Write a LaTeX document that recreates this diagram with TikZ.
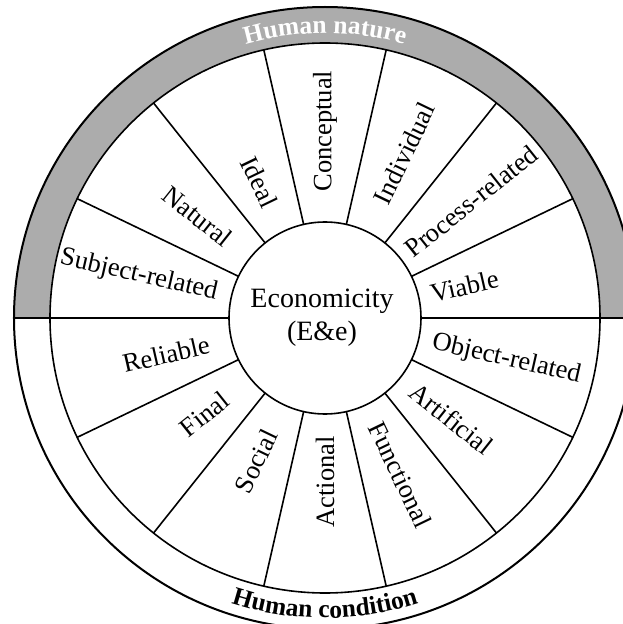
\documentclass[tikz,border=0pt]{standalone}
\usepackage{fontspec}
\setmainfont{Liberation Serif}
\usetikzlibrary{decorations.text}
\begin{document}
\begin{tikzpicture}[x=1pt,y=1pt,
  rule/.style={line width=1.6pt,black},
  ringline/.style={line width=2pt,black},
  lab/.style={font=\fontsize{26.5}{30}\selectfont,inner sep=0pt},
  hub/.style={font=\fontsize{28}{33}\selectfont,align=center,inner sep=0pt}]
\useasboundingbox (-325,-306) rectangle (297,318);
% radii: hub 96, inner ring edge 275, outer edge 311
\def\rhub{96}\def\rin{275}\def\rout{311}
% grey upper half of the outer band
\fill[gray!65] (180:\rout) arc[start angle=180,end angle=0,radius=311pt]
  -- (0:\rin) arc[start angle=0,end angle=180,radius=275pt] -- cycle;
\draw[ringline] (0,0) circle[radius=311pt];
\draw[rule] (0,0) circle[radius=275pt];
\node[circle,draw,line width=1.6pt,minimum size=192pt,inner sep=0pt] (hub) at (0,0) {};
% horizontal divider crossing the band
\coordinate (eL) at (180:\rout); \coordinate (eR) at (0:\rout);
\draw[rule] (eL) -- (hub.west);
\draw[rule] (hub.east) -- (eR);
% spokes between the hub and the band
\foreach \k in {1,...,6,8,9,...,13}{
  \pgfmathsetmacro\a{\k*360/14}
  \draw[rule] (\a:\rhub) -- (\a:\rin);
}
\node[hub] (eco) at (-3,0) {Economicity\\(E\&e)};
% sector labels
\node[lab,rotate=12.86]  (viable)     at (12.86:143)  {Viable};
\node[lab,rotate=38.57]  (process)    at (38.57:187)  {Process-related};
\node[lab,rotate=64.29]  (individual) at (64.29:183)  {Individual};
\node[lab,rotate=90]     (conceptual) at (90:187)     {Conceptual};
\node[lab,rotate=-64.29] (ideal)      at (115.71:151) {Ideal};
\node[lab,rotate=-38.57] (natural)    at (141.43:163) {Natural};
\node[lab,rotate=-12.86] (subject)    at (167.14:191) {Subject-related};
\node[lab,rotate=12.86]  (reliable)   at (192.86:163) {Reliable};
\node[lab,rotate=38.57]  (final)      at (218.57:154) {Final};
\node[lab,rotate=64.29]  (social)     at (244.29:159) {Social};
\node[lab,rotate=90]     (actional)   at (270:164)    {Actional};
\node[lab,rotate=-64.29] (functional) at (295.71:174) {Functional};
\node[lab,rotate=-38.57] (artificial) at (321.43:162) {Artificial};
\node[lab,rotate=-12.86] (object)     at (347.14:186) {Object-related};
% band titles
\path[decorate,decoration={text along path,text align=center,
  text={|\color{white}\bfseries\fontsize{25.5}{30}\selectfont|Human nature}}]
  (180:285) arc[start angle=180,end angle=0,radius=285pt];
\path[decorate,decoration={text along path,text align=center,
  text={|\bfseries\fontsize{25.5}{30}\selectfont|Human condition}}]
  (180:300) arc[start angle=180,end angle=360,radius=300pt];
\end{tikzpicture}
\end{document}
